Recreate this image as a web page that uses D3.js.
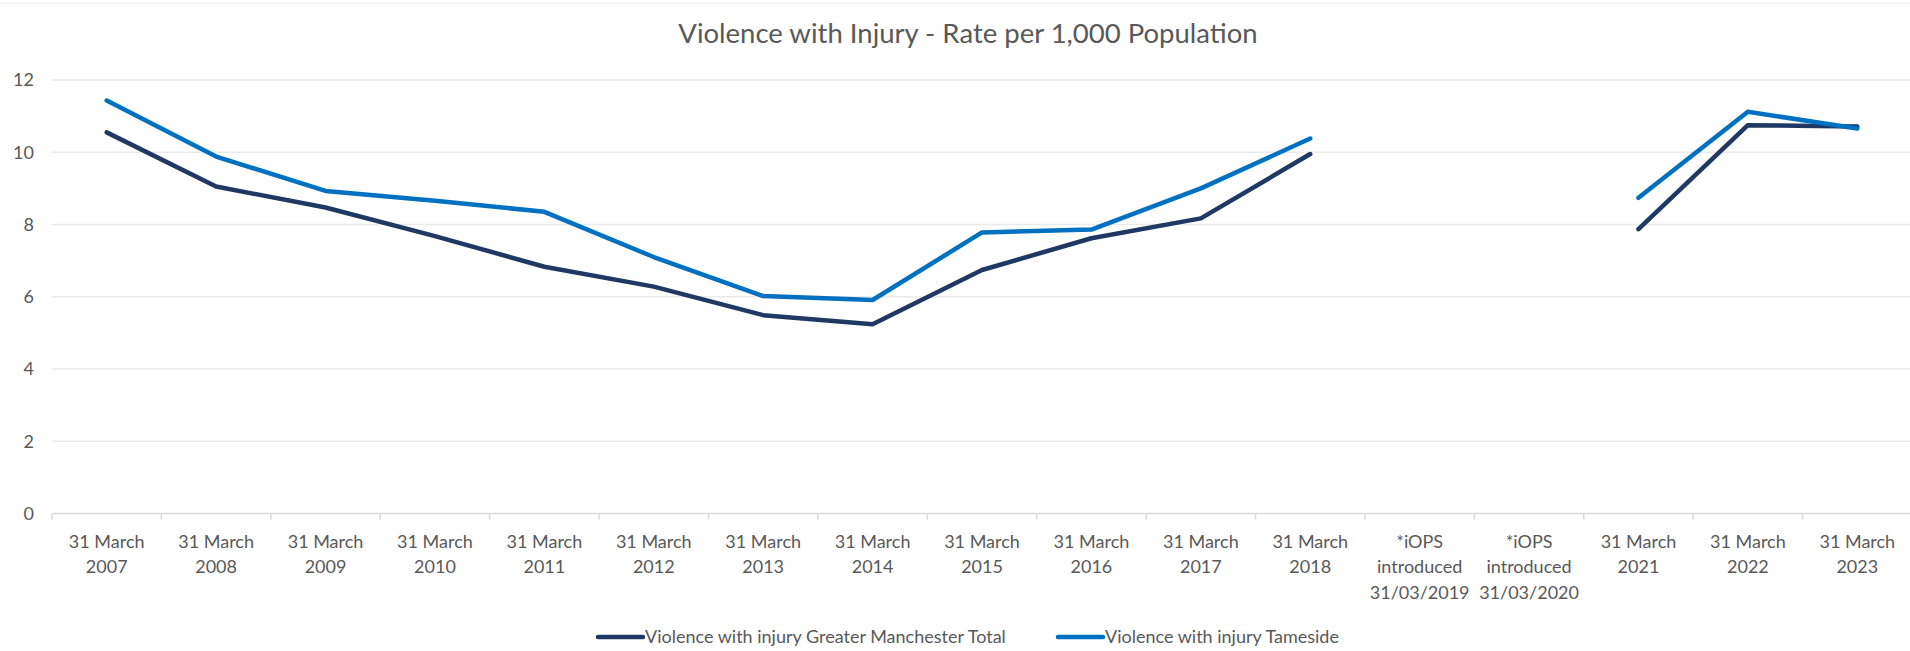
<!DOCTYPE html>
<html>
<head>
<meta charset="utf-8">
<script src="https://cdn.jsdelivr.net/npm/d3@7/dist/d3.min.js"></script>
<style>
  html, body { margin: 0; padding: 0; background: #ffffff; }
  svg { display: block; }
  text { font-family: Lato, "Open Sans", sans-serif; fill: #595959; }
</style>
</head>
<body>
<svg id="chart" width="1910" height="651"></svg>
<script>
const categories = [
  "31 March\n2007", "31 March\n2008", "31 March\n2009", "31 March\n2010",
  "31 March\n2011", "31 March\n2012", "31 March\n2013", "31 March\n2014",
  "31 March\n2015", "31 March\n2016", "31 March\n2017", "31 March\n2018",
  "*iOPS\nintroduced\n31/03/2019", "*iOPS\nintroduced\n31/03/2020",
  "31 March\n2021", "31 March\n2022", "31 March\n2023"
];
const greaterManchester = [10.55, 9.05, 8.47, 7.68, 6.83, 6.28, 5.49, 5.24, 6.74, 7.62, 8.17, 9.95, null, null, 7.87, 10.75, 10.71];
const tameside = [11.43, 9.88, 8.93, 8.66, 8.35, 7.10, 6.02, 5.91, 7.78, 7.86, 9.00, 10.38, null, null, 8.74, 11.12, 10.66];
const yTicks = [0, 2, 4, 6, 8, 10, 12];
const seriesNames = ["Violence with injury Greater Manchester Total", "Violence with injury Tameside"];
const colors = ["#1f3864", "#0070c0"];

(function () {
const svg = d3.select("#chart");
const W = 1910, H = 651;
const pLeft = 52, pRight = 1912, pTop = 80, pBottom = 513.5;

const x = d3.scaleBand().domain(categories).range([pLeft, pRight]).padding(0);
const y = d3.scaleLinear().domain([0, 12]).range([pBottom, pTop]);

// faint chart border line at top
svg.append("line").attr("x1", 0).attr("x2", W).attr("y1", 3).attr("y2", 3)
  .attr("stroke", "#f0f0f0").attr("stroke-width", 1);

// title
svg.append("text").attr("x", 968).attr("y", 43).attr("text-anchor", "middle")
  .style("font-size", "27.5px").style("fill", "#595959")
  .text("Violence with Injury - Rate per 1,000 Population");

// gridlines
svg.append("g").selectAll("line").data(yTicks.filter(d => d > 0)).join("line")
  .attr("x1", pLeft).attr("x2", W).attr("y1", d => y(d)).attr("y2", d => y(d))
  .attr("stroke", "#eaeaea").attr("stroke-width", 1.3);

// y axis labels
const yAxis = d3.axisLeft(y).tickValues(yTicks).tickSize(0).tickPadding(0);
const gy = svg.append("g").attr("transform", `translate(34,0)`).call(yAxis);
gy.select(".domain").remove();
gy.selectAll("text").style("font-size", "18px").style("fill", "#595959")
  .style("font-family", "Lato, sans-serif");

// x axis baseline
svg.append("line").attr("x1", pLeft).attr("x2", W).attr("y1", y(0)).attr("y2", y(0))
  .attr("stroke", "#d9d9d9").attr("stroke-width", 1.5);
// tick marks at band boundaries
svg.append("g").selectAll("line").data(categories).join("line")
  .attr("x1", d => x(d)).attr("x2", d => x(d))
  .attr("y1", y(0)).attr("y2", y(0) + 6)
  .attr("stroke", "#d9d9d9").attr("stroke-width", 1.5);

// x axis labels
const xAxis = d3.axisBottom(x).tickSize(0).tickFormat("");
const gx = svg.append("g").attr("transform", `translate(0,${y(0)})`).call(xAxis);
gx.select(".domain").remove();
gx.selectAll(".tick").each(function(d) {
  const t = d3.select(this).append("text").attr("text-anchor", "middle")
    .style("font-size", "18px").style("fill", "#595959");
  d.split("\n").forEach((ln, i) => {
    t.append("tspan").attr("x", 0).attr("y", 34 + i * 25.6).text(ln);
  });
});

// lines
const line = d3.line()
  .defined(d => d.v != null)
  .x(d => x(d.c) + x.bandwidth() / 2)
  .y(d => y(d.v));

[greaterManchester, tameside].forEach((vals, i) => {
  const data = categories.map((c, j) => ({ c, v: vals[j] }));
  svg.append("path").datum(data).attr("d", line)
    .attr("fill", "none").attr("stroke", colors[i]).attr("stroke-width", 4.5)
    .attr("stroke-linejoin", "round").attr("stroke-linecap", "round");
});

// legend
const legendPos = [598, 1058];
seriesNames.forEach((name, i) => {
  const lx = legendPos[i];
  svg.append("line").attr("x1", lx).attr("x2", lx + 45).attr("y1", 637).attr("y2", 637)
    .attr("stroke", colors[i]).attr("stroke-width", 4.5).attr("stroke-linecap", "round");
  svg.append("text").attr("x", lx + 47).attr("y", 643).style("font-size", "18px")
    .style("fill", "#595959").text(name);
});
})();
</script>
</body>
</html>
